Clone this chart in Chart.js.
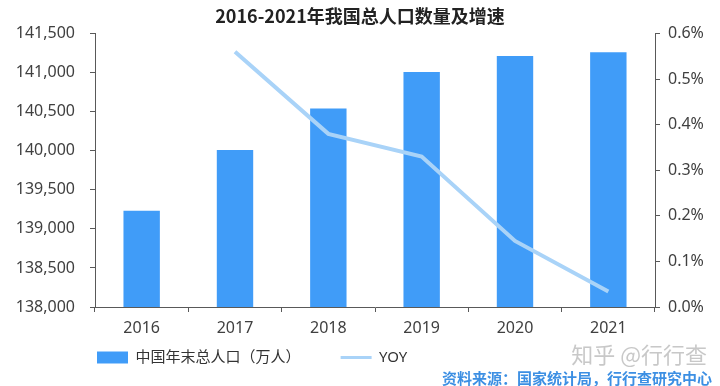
<!DOCTYPE html>
<html>
<head>
<meta charset="utf-8">
<script src="https://cdn.jsdelivr.net/npm/chart.js@4/dist/chart.umd.min.js"></script>
<style>
  html, body { margin: 0; padding: 0; background: #fff; }
  #wrap { width: 720px; height: 386px; }
</style>
</head>
<body>
<div id="wrap"><canvas id="popChart" width="720" height="386"></canvas></div>
<script>
// data
const years = ["2016", "2017", "2018", "2019", "2020", "2021"];
const population = [139232, 140011, 140541, 141008, 141212, 141260]; // 万人
const yoy = [null, 0.56, 0.38, 0.33, 0.145, 0.034]; // %
const popTicks = [138000, 141500, 500];
const yoyTicks = [0, 0.6, 0.1];

const barColor = "#409CF8";
const lineColor = "#A9D3F8";
const axisColor = "#595959";
const textColor = "#404040";

Chart.defaults.font.family = '"Noto Sans", "Noto Sans CJK SC", sans-serif';
Chart.defaults.color = textColor;

// watermark in the corner
const watermark = {
  id: "watermark",
  afterDraw(chart) {
    const ctx = chart.ctx;
    ctx.save();
    ctx.font = '22px "Noto Sans CJK SC", sans-serif';
    ctx.fillStyle = "rgba(190,190,190,0.85)";
    ctx.textAlign = "right";
    ctx.textBaseline = "middle";
    ctx.fillText("知乎 @行行查", 707, 355);
    ctx.restore();
  }
};

let ctx = document.getElementById("popChart").getContext("2d");
new Chart(ctx, {
  type: "bar",
  data: {
    labels: years,
    datasets: [{
      label: "中国年末总人口（万人）",
      data: population,
      backgroundColor: barColor,
      borderWidth: 0,
      barPercentage: 0.39,
      categoryPercentage: 1,
      pointStyle: "rect",
      yAxisID: "y",
      order: 2
    }, {
      type: "line",
      label: "YOY",
      data: yoy,
      borderColor: lineColor,
      backgroundColor: lineColor,
      borderWidth: 4,
      pointRadius: 0,
      tension: 0,
      pointStyle: "line",
      yAxisID: "y2",
      order: 1
    }]
  },
  plugins: [watermark],
  options: {
    responsive: false,
    animation: false,
    devicePixelRatio: 1,
    layout: { padding: { left: 8, right: 8, top: 0, bottom: 0.5 } },
    plugins: {
      tooltip: { enabled: false },
      title: {
        display: true,
        text: "2016-2021年我国总人口数量及增速",
        color: "#222",
        font: { size: 18, weight: "bold", family: '"Noto Sans CJK SC", sans-serif', lineHeight: 1.2 },
        padding: { top: 5, bottom: 7 }
      },
      subtitle: {
        display: true,
        position: "bottom",
        align: "end",
        text: "资料来源：国家统计局，行行查研究中心",
        color: "#3C8FE3",
        font: { size: 15, weight: "bold", family: '"Noto Sans CJK SC", sans-serif', lineHeight: 1 },
        padding: { top: -4.5, bottom: 0 }
      },
      legend: {
        position: "bottom",
        align: "start",
        fullSize: false,
        labels: {
          usePointStyle: true,
          pointStyleWidth: 31,
          boxHeight: 12,
          padding: 2,
          color: "#333",
          font: { size: 15 },
          sort: (a, b) => a.datasetIndex - b.datasetIndex,
          generateLabels(chart) {
            const items = Chart.defaults.plugins.legend.labels.generateLabels(chart);
            items.forEach((it) => {
              if (it.datasetIndex === 0) it.text = it.text + "\u3000\u3000    ";
              if (it.datasetIndex === 1) it.lineWidth = 3;
            });
            return items;
          }
        }
      }
    },
    scales: {
      x: {
        offset: true,
        afterFit(scale) { scale.height = 41; },
        grid: { drawOnChartArea: false, tickLength: 5, color: axisColor },
        border: { color: axisColor },
        ticks: { font: { size: 16 }, padding: 7, color: textColor }
      },
      y: {
        position: "left",
        min: popTicks[0],
        max: popTicks[1],
        afterFit(scale) { scale.width = 87; },
        grid: { drawOnChartArea: false, tickLength: 5, color: axisColor },
        border: { color: axisColor },
        ticks: {
          stepSize: popTicks[2],
          padding: 15,
          font: { size: 16 },
          color: textColor,
          callback: (v) => v.toLocaleString("en-US")
        }
      },
      y2: {
        position: "right",
        min: yoyTicks[0],
        max: yoyTicks[1],
        afterFit(scale) { scale.width = 57; },
        grid: { drawOnChartArea: false, tickLength: 5, color: axisColor },
        border: { color: axisColor },
        ticks: {
          stepSize: yoyTicks[2],
          padding: 8,
          font: { size: 16 },
          color: textColor,
          callback: (v) => v.toFixed(1) + "%"
        }
      }
    }
  }
});
</script>
</body>
</html>
